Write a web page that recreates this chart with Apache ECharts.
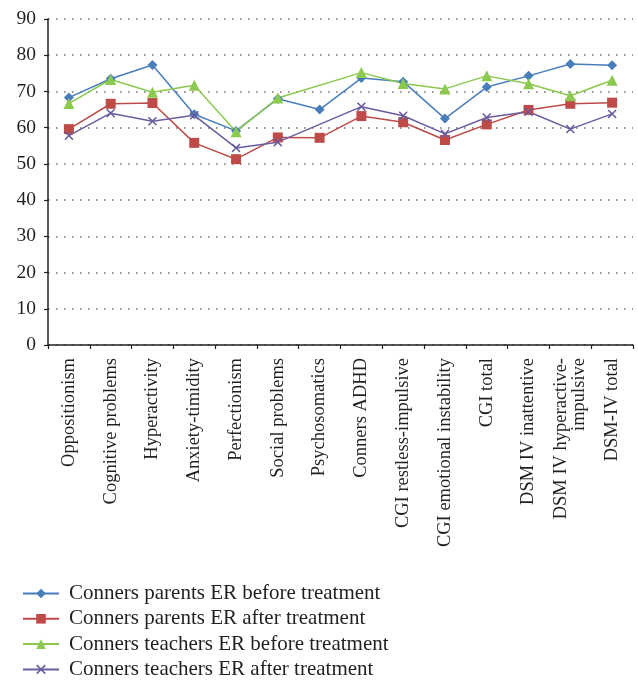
<!DOCTYPE html>
<html>
<head>
<meta charset="utf-8">
<script src="https://cdn.jsdelivr.net/npm/echarts@6/dist/echarts.min.js"></script>
<style>
html,body{margin:0;padding:0;background:#fff;}
#c{width:638px;height:681px;}
</style>
</head>
<body>
<div id="c"></div>
<script>
var categories = ["Oppositionism","Cognitive problems","Hyperactivity","Anxiety-timidity","Perfectionism","Social problems","Psychosomatics","Conners ADHD","CGI restless-impulsive","CGI emotional instability","CGI total","DSM IV inattentive","DSM IV hyperactive-\nimpulsive","DSM-IV total"];
var seriesNames = ["Conners parents ER before treatment","Conners parents ER after treatment","Conners teachers ER before treatment","Conners teachers ER after treatment"];
var parentsBefore = [68.3,73.5,77.3,63.7,59.1,68.0,65.0,73.7,72.7,62.5,71.2,74.3,77.6,77.2];
var parentsAfter = [59.6,66.6,66.8,55.8,51.3,57.3,57.2,63.2,61.5,56.6,60.9,64.9,66.6,66.9];
var teachersBefore = [66.7,73.3,69.8,71.7,58.9,68.2,null,75.2,72.2,70.7,74.3,72.1,68.8,73.1];
var teachersAfter = [57.8,64.0,61.8,63.4,54.4,56.0,null,65.8,63.3,58.3,62.8,64.4,59.6,63.8];
var yTicks = [0,10,20,30,40,50,60,70,80,90];

var FONT = "Liberation Serif";
var TXT = "#231f20";
var xPath = "path://M0,1.2L1.2,0L5,3.8L8.8,0L10,1.2L6.2,5L10,8.8L8.8,10L5,6.2L1.2,10L0,8.8L3.8,5Z";

function mk(name, data, color, symbol, size) {
  return {
    name: name, type: "line", data: data, connectNulls: true,
    symbol: symbol, symbolSize: size,
    lineStyle: {color: color, width: 1.5},
    itemStyle: {color: color},
    emphasis: {disabled: true},
    animation: false
  };
}

var chart = echarts.init(document.getElementById("c"));
chart.setOption({
  backgroundColor: "#fff",
  animation: false,
  grid: {left: 48, right: 5, top: 19, bottom: 336, containLabel: false},
  legend: {
    orient: "vertical", left: 17, top: 578, height: 110, width: 500,
    itemWidth: 36, itemHeight: 12, itemGap: 4.3,
    textStyle: {fontFamily: FONT, fontSize: 21, color: TXT, padding: [0,0,0,5]},
    data: seriesNames
  },
  xAxis: {
    type: "category", data: categories, boundaryGap: true,
    axisLine: {lineStyle: {color: "#231f20", width: 1.5}},
    axisTick: {show: true, length: 4, inside: false, lineStyle: {color: "#231f20", width: 1.2}},
    axisLabel: {rotate: 90, interval: 0, margin: 13, fontFamily: FONT, fontSize: 18.5, color: TXT, lineHeight: 18}
  },
  yAxis: {
    type: "value", min: 0, max: 90, interval: 10,
    axisLine: {show: true, lineStyle: {color: "#231f20", width: 1.5}},
    axisTick: {show: true, length: 4, lineStyle: {color: "#231f20", width: 1.2}},
    axisLabel: {margin: 12, fontFamily: FONT, fontSize: 19.5, color: TXT,
      formatter: function(v){ return yTicks.indexOf(v) >= 0 ? String(v) : ""; }},
    splitLine: {show: true, lineStyle: {color: "#777", width: 1.6, type: [1.6, 6.4]}}
  },
  series: [
    mk(seriesNames[0], parentsBefore, "#4a7ebb", "diamond", 10),
    mk(seriesNames[1], parentsAfter, "#be4b48", "rect", 10),
    mk(seriesNames[2], teachersBefore, "#8cc94f", "triangle", 11),
    mk(seriesNames[3], teachersAfter, "#6a5c9e", xPath, 9)
  ]
});
</script>
</body>
</html>
